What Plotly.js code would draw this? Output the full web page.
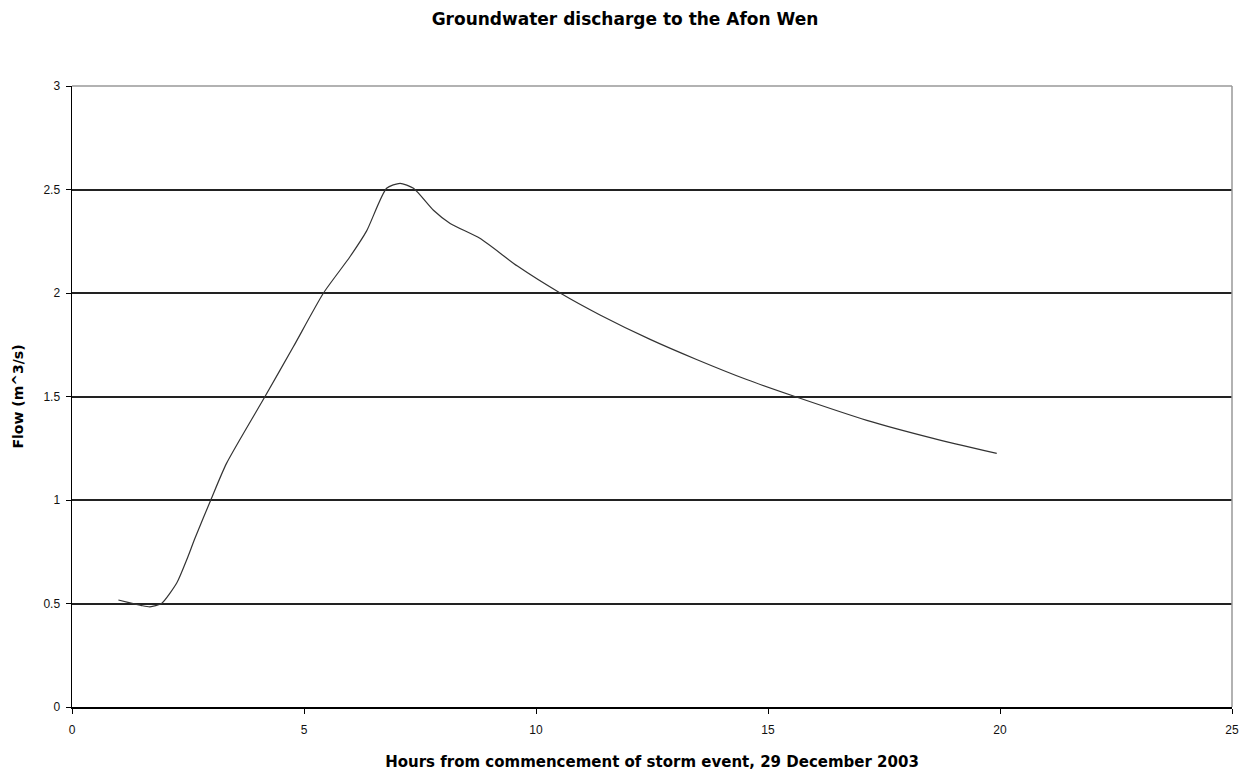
<!DOCTYPE html>
<html>
<head>
<meta charset="utf-8">
<script src="https://cdn.plot.ly/plotly-3.0.1.min.js"></script>
<style>html,body{margin:0;padding:0;background:#fff;}#chart{width:1250px;height:776px;}</style>
</head>
<body>
<div id="chart"></div>
<script>
const hours = [1.0, 1.25, 1.5, 1.68, 1.93, 2.26, 2.47, 2.65, 3.0, 3.33, 4.16, 4.77, 5.42, 5.99, 6.35, 6.78, 7.07, 7.36, 7.79, 8.15, 8.79, 9.6, 10.52, 11.38, 12.46, 13.46, 14.54, 15.58, 17.13, 18.56, 19.93];
const flow  = [0.517, 0.503, 0.49, 0.484, 0.50, 0.60, 0.71, 0.815, 1.005, 1.177, 1.50, 1.74, 2.0, 2.175, 2.30, 2.506, 2.53, 2.506, 2.40, 2.336, 2.264, 2.13, 2.0, 1.894, 1.776, 1.679, 1.582, 1.50, 1.385, 1.298, 1.225];
const xTicks = [0, 5, 10, 15, 20, 25];
const yTicks = [0, 0.5, 1, 1.5, 2, 2.5, 3];
const titleText = "Groundwater discharge to the Afon Wen";
const xTitle = "Hours from commencement of storm event, 29 December 2003";
const yTitle = "Flow (m^3/s)";

const boldFont = '"DejaVu Sans", Verdana, sans-serif';
const sans = '"Liberation Sans", Arial, sans-serif';

const trace = {
  x: hours, y: flow, type: 'scatter', mode: 'lines',
  line: {color: '#333333', width: 1.2, shape: 'spline', smoothing: 0.6},
  hoverinfo: 'x+y'
};

const layout = {
  width: 1250, height: 776,
  paper_bgcolor: '#ffffff', plot_bgcolor: '#ffffff',
  margin: {l: 72, r: 18, t: 86, b: 69},
  showlegend: false,
  title: {text: '<b>' + titleText + '</b>', x: 0.5, xanchor: 'center', y: 0.976, yanchor: 'middle',
          font: {family: boldFont, size: 17, color: '#000'}},
  xaxis: {
    range: [0, 25], tickvals: xTicks, ticktext: xTicks.map(String),
    showgrid: false, zeroline: false,
    showline: true, linecolor: '#000', linewidth: 1.5,
    ticks: 'outside', ticklen: 5, tickcolor: '#000', tickwidth: 1,
    ticklabelstandoff: 6,
    tickfont: {family: sans, size: 12, color: '#111'},
    title: {text: '<b>' + xTitle + '</b>', font: {family: boldFont, size: 15, color: '#000'}, standoff: 20}
  },
  yaxis: {
    range: [0, 3], tickvals: yTicks, ticktext: yTicks.map(String),
    showgrid: true, gridcolor: '#222', gridwidth: 2,
    zeroline: false,
    showline: true, linecolor: '#000', linewidth: 1.5,
    ticks: 'outside', ticklen: 5, tickcolor: '#000', tickwidth: 1,
    ticklabelstandoff: 3,
    tickfont: {family: sans, size: 12, color: '#111'},
    title: {text: '<b>' + yTitle + '</b>', font: {family: boldFont, size: 14, color: '#000'}, standoff: 16}
  },
  shapes: [
    {type: 'line', xref: 'paper', yref: 'paper', x0: 0, x1: 1, y0: 1, y1: 1, line: {color: '#999999', width: 1.5}},
    {type: 'line', xref: 'paper', yref: 'paper', x0: 1, x1: 1, y0: 0, y1: 1, line: {color: '#999999', width: 1.5}}
  ]
};

Plotly.newPlot('chart', [trace], layout, {displayModeBar: false, staticPlot: true});
</script>
</body>
</html>
